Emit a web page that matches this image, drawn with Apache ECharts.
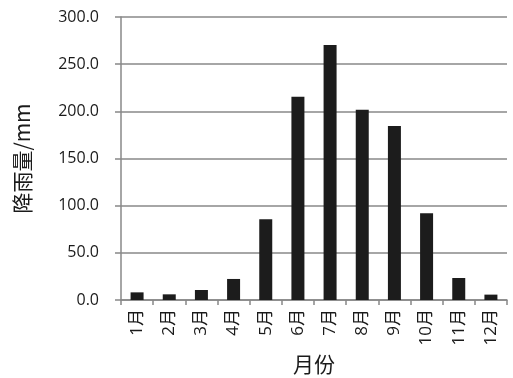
<!DOCTYPE html>
<html><head><meta charset="utf-8">
<script src="https://cdn.jsdelivr.net/npm/echarts@6/dist/echarts.min.js"></script>
<style>html,body{margin:0;padding:0;background:#fff}#c{width:513px;height:378px}</style>
</head><body><div id="c"></div>
<script>
const months = ['1月','2月','3月','4月','5月','6月','7月','8月','9月','10月','11月','12月'];
const rainfall = [8.1, 6.0, 10.6, 22.3, 85.5, 215.5, 270.3, 201.8, 184.5, 91.9, 23.3, 5.7];
const xName = '月份';
const yName = '降雨量/mm';
const chart = echarts.init(document.getElementById('c'), null, {renderer:'canvas'});
const font = '"Open Sans", "Noto Sans CJK SC", sans-serif';
chart.setOption({
  animation:false,
  backgroundColor:'#fff',
  grid:{left:121, right:6, top:17, bottom:78, outerBoundsMode:'none', containLabel:false},
  xAxis:{
    type:'category', data:months,
    name:xName, nameLocation:'middle', nameGap:54,
    nameTextStyle:{fontSize:21, color:'#1a1a1a', fontFamily:'"Noto Sans CJK SC", sans-serif'},
    axisLine:{lineStyle:{color:'#888', width:1.5}},
    axisTick:{show:true, length:5, lineStyle:{color:'#888', width:1.5}},
    axisLabel:{rotate:90, fontSize:17, color:'#1a1a1a', margin:9, fontFamily:font}
  },
  yAxis:{
    type:'value', min:0, max:300, interval:50,
    name:yName, nameLocation:'middle', nameGap:88,
    nameTextStyle:{fontSize:21, color:'#1a1a1a', fontFamily:'"Noto Sans CJK SC", sans-serif'},
    axisLine:{show:true, lineStyle:{color:'#888', width:1.5}},
    axisTick:{show:true, length:6, lineStyle:{color:'#888', width:1.5}},
    axisLabel:{fontSize:16, color:'#1a1a1a', margin:22, fontFamily:font,
      formatter:v=>v.toFixed(1)},
    splitLine:{lineStyle:{color:'#888', width:1.5}}
  },
  series:[{
    type:'bar', data:rainfall, barWidth:13,
    itemStyle:{color:'#1c1c1c'}
  }]
});
</script></body></html>
